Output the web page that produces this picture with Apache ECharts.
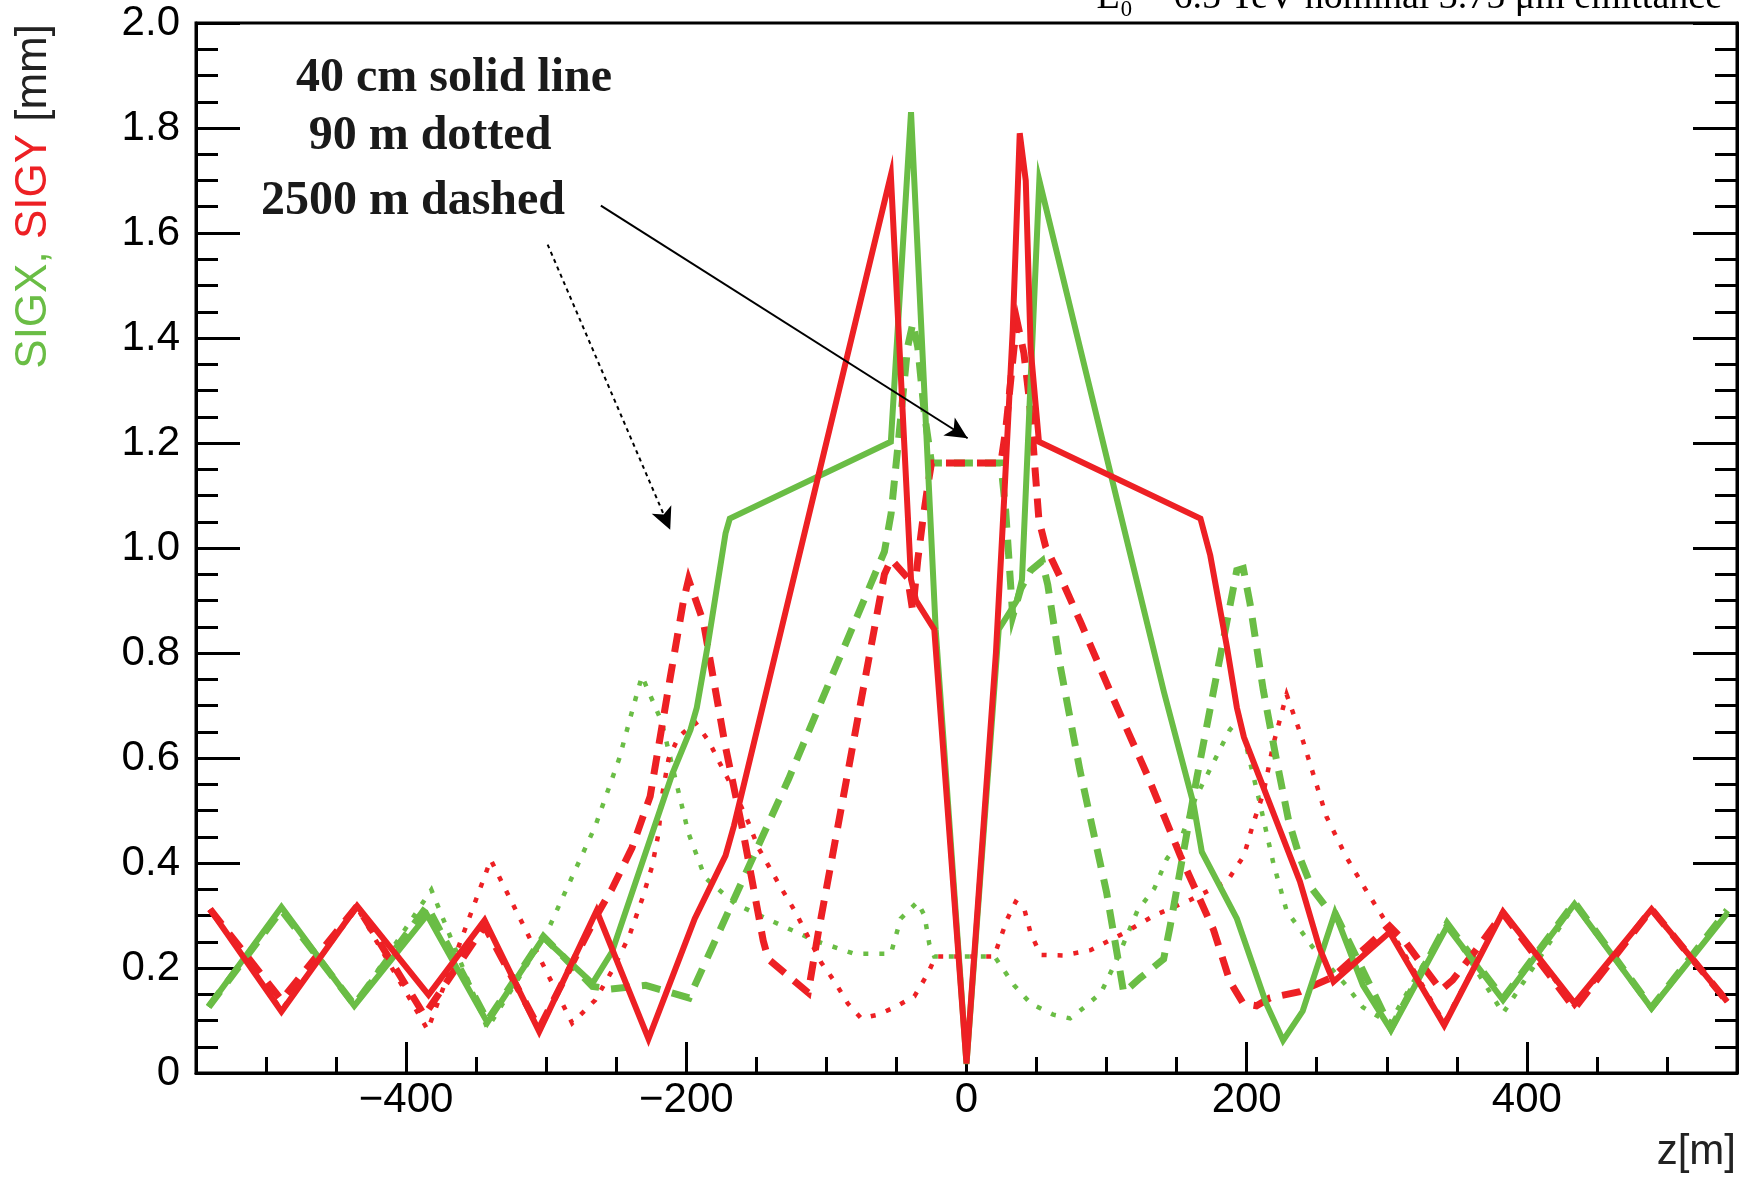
<!DOCTYPE html>
<html>
<head>
<meta charset="utf-8">
<script src="https://cdn.jsdelivr.net/npm/echarts@6/dist/echarts.min.js"></script>
<style>html,body{margin:0;padding:0;background:#fff}#c{width:1753px;height:1177px}</style>
</head>
<body>
<div id="c"></div>
<script>
const GREEN = '#6abd45';
const RED = '#ed2024';

// ---- tick labels ----
const xMajorTicks = [-400, -200, 0, 200, 400];

// ---- SIGX (green) 40 cm, solid ----
const sigxSolidZ = [-541, -489, -437, -385, -342, -302, -267, -253, -210, -197, -192.5, -185, -172, -169, -54, -39.6, -22, 0, 23, 36, 39.6, 52, 107.5, 141, 162, 168, 193, 214, 226, 240, 263, 283, 303, 343, 383, 434, 489, 543];
const sigxSolidV = [0.126, 0.316, 0.128, 0.301, 0.096, 0.258, 0.171, 0.231, 0.57, 0.654, 0.696, 0.81, 1.028, 1.056, 1.2025, 1.83, 0.845, 0.017, 0.845, 0.90, 0.94, 1.70, 1.091, 0.725, 0.513, 0.421, 0.294, 0.132, 0.062, 0.118, 0.305, 0.167, 0.082, 0.279, 0.139, 0.322, 0.123, 0.304];

// ---- SIGY (red) 40 cm, solid ----
const sigySolidZ = [-540, -489, -435, -384, -344, -305, -264, -227, -194, -172, -166, -54, -39.6, -36, -23, 0, 21, 26.8, 33, 38, 42.3, 45.8, 51.7, 167, 174, 186, 193, 198, 238, 252, 262, 302, 341, 383, 434, 489, 543];
const sigySolidV = [0.312, 0.117, 0.318, 0.149, 0.291, 0.079, 0.309, 0.065, 0.294, 0.414, 0.471, 1.71, 0.94, 0.90, 0.845, 0.018, 0.80, 1.09, 1.415, 1.79, 1.70, 1.38, 1.2025, 1.056, 0.986, 0.81, 0.696, 0.64, 0.365, 0.238, 0.174, 0.268, 0.091, 0.307, 0.133, 0.312, 0.136];

// ---- SIGX (green) 90 m, dotted ----
const sigxDottedZ = [-541, -489, -437, -382, -342, -300, -289, -265, -248, -238, -231.7, -217.6, -206.8, -198.5, -186.6, -165, -137, -108, -80, -54, -47, -35, -30, -26.5, -23, 20, 34, 46, 62, 74, 84, 96, 107.5, 122, 134, 143, 152.5, 164, 176, 188, 195, 209.5, 219, 228.5, 247, 271, 283, 302, 343, 383, 434, 489, 543];
const sigxDottedV = [0.126, 0.316, 0.128, 0.349, 0.085, 0.265, 0.33, 0.47, 0.598, 0.696, 0.756, 0.669, 0.549, 0.457, 0.372, 0.322, 0.287, 0.252, 0.227, 0.227, 0.294, 0.326, 0.30, 0.245, 0.222, 0.222, 0.167, 0.132, 0.111, 0.104, 0.125, 0.153, 0.217, 0.309, 0.351, 0.408, 0.442, 0.527, 0.59, 0.654, 0.675, 0.513, 0.40, 0.309, 0.24, 0.167, 0.125, 0.095, 0.285, 0.114, 0.32, 0.125, 0.304];

// ---- SIGY (red) 90 m, dotted ----
const sigyDottedZ = [-540, -489, -435, -384.6, -339.6, -281.5, -265, -253, -241, -231.7, -224.5, -219.8, -217.4, -212.7, -205.6, -193.7, -184.2, -174.7, -165.3, -155.8, -148.6, -132, -122.6, -113, -103.6, -94.1, -84.6, -75.1, -63.3, -51.4, -37.2, -27.7, -22, 19.7, 24.5, 29.2, 35.1, 41, 45.8, 53, 69, 88.5, 112, 134, 160, 186, 198, 205, 212, 219, 228.5, 240, 257, 271, 285, 300, 341, 383, 434, 489, 543];
const sigyDottedV = [0.312, 0.12, 0.315, 0.082, 0.406, 0.095, 0.139, 0.195, 0.259, 0.33, 0.393, 0.457, 0.527, 0.598, 0.64, 0.668, 0.633, 0.583, 0.534, 0.478, 0.429, 0.351, 0.309, 0.259, 0.21, 0.174, 0.132, 0.104, 0.111, 0.125, 0.146, 0.189, 0.222, 0.222, 0.259, 0.294, 0.326, 0.315, 0.266, 0.225, 0.224, 0.234, 0.266, 0.30, 0.33, 0.365, 0.414, 0.478, 0.534, 0.626, 0.721, 0.634, 0.488, 0.412, 0.349, 0.285, 0.095, 0.307, 0.128, 0.31, 0.136];

// ---- SIGX (green) 2500 m, dashed ----
const sigxDashedZ = [-541, -489, -437, -385, -342, -302, -267, -254, -229, -198, -127, -58.6, -53.8, -49, -45.5, -42, -38.3, -34.8, -30.1, -25, 24.5, 28, 33, 38.7, 45.8, 54, 58, 67, 81, 100, 108.6, 112.2, 124, 140.7, 145.4, 164.4, 192.9, 197.6, 202.4, 211.8, 221, 230, 238, 247, 257, 263, 303, 343, 383, 434, 489, 543];
const sigxDashedV = [0.126, 0.31, 0.13, 0.318, 0.1, 0.26, 0.165, 0.16, 0.167, 0.143, 0.56, 0.993, 1.066, 1.193, 1.288, 1.383, 1.428, 1.383, 1.257, 1.162, 1.162, 1.07, 0.87, 0.922, 0.957, 0.975, 0.93, 0.774, 0.576, 0.344, 0.21, 0.153, 0.181, 0.217, 0.28, 0.562, 0.957, 0.961, 0.894, 0.73, 0.60, 0.48, 0.41, 0.35, 0.315, 0.305, 0.085, 0.285, 0.142, 0.325, 0.125, 0.31];

// ---- SIGY (red) 2500 m, dashed ----
const sigyDashedZ = [-540, -489, -435, -387, -344, -305, -264, -253, -238.8, -225.8, -211.5, -202, -198.4, -187.8, -172.4, -159.3, -145.1, -141.5, -113, -105.9, -58.6, -53.8, -42, -38.4, -34.8, -31.2, -27.7, -25, 24.5, 28, 31.6, 34, 36.4, 41, 44.6, 47, 51.7, 56.5, 69.5, 81.4, 105.1, 128.8, 152.6, 176.3, 188.1, 197.6, 207, 216.6, 238, 261.6, 285.4, 302, 314, 328, 338.7, 347, 363.6, 383, 434, 489, 543];
const sigyDashedV = [0.312, 0.139, 0.318, 0.11, 0.28, 0.085, 0.30, 0.351, 0.429, 0.527, 0.753, 0.90, 0.94, 0.859, 0.626, 0.457, 0.252, 0.217, 0.153, 0.266, 0.95, 0.978, 0.943, 0.88, 0.977, 1.053, 1.117, 1.162, 1.162, 1.225, 1.32, 1.383, 1.428, 1.371, 1.288, 1.218, 1.053, 1.0025, 0.93, 0.859, 0.711, 0.569, 0.414, 0.273, 0.174, 0.132, 0.128, 0.143, 0.155, 0.183, 0.24, 0.28, 0.247, 0.196, 0.158, 0.177, 0.234, 0.304, 0.123, 0.312, 0.136];

// ---- annotation arrows (data coords: [z, sigma]) ----
const solidArrowFrom = [-261, 1.652];
const solidArrowTo = [0.8, 1.209];
const dottedArrowFrom = [-299, 1.578];
const dottedArrowTo = [-211.5, 1.035];

function pairs(z, v) { return z.map((x, i) => [x, v[i]]); }

const SOLID_W = 6, DASH_W = 7, DOT_W = 4.5;
function mkSeries(name, z, v, color, kind) {
  let ls;
  if (kind === 'solid') ls = { color, width: SOLID_W, type: 'solid' };
  else if (kind === 'dashed') ls = { color, width: DASH_W, type: [19, 12] };
  else ls = { color, width: DOT_W, type: [5, 11] };
  ls.join = 'miter';
  ls.miterLimit = 8;
  return {
    name, type: 'line', xAxisIndex: 0, yAxisIndex: 0,
    data: pairs(z, v), showSymbol: false, symbol: 'none',
    lineStyle: ls, animation: false, silent: true
  };
}

const series = [
  mkSeries('SIGX 90 m', sigxDottedZ, sigxDottedV, GREEN, 'dotted'),
  mkSeries('SIGY 90 m', sigyDottedZ, sigyDottedV, RED, 'dotted'),
  mkSeries('SIGX 2500 m', sigxDashedZ, sigxDashedV, GREEN, 'dashed'),
  mkSeries('SIGY 2500 m', sigyDashedZ, sigyDashedV, RED, 'dashed'),
  mkSeries('SIGX 40 cm', sigxSolidZ, sigxSolidV, GREEN, 'solid'),
  mkSeries('SIGY 40 cm', sigySolidZ, sigySolidV, RED, 'solid')
];
series[series.length - 1].markLine = {
  silent: true,
  animation: false,
  symbol: ['none', 'arrow'],
  symbolSize: [16, 22],
  label: { show: false },
  emphasis: { disabled: true },
  lineStyle: { color: '#000', width: 2, type: 'solid' },
  data: [
    [{ coord: solidArrowFrom }, { coord: solidArrowTo }],
    [{ coord: dottedArrowFrom, lineStyle: { color: '#000', width: 2, type: [4, 4] } }, { coord: dottedArrowTo }]
  ]
};

const AX = '#000';
const LBL_FONT = 'Liberation Sans';
const fmtX = v => (v < 0 ? '\u2212' + Math.abs(v) : String(v));
const fmtY = v => (v === 0 ? '0' : v.toFixed(1));

const chart = echarts.init(document.getElementById('c'), null, { renderer: 'canvas' });
chart.setOption({
  animation: false,
  backgroundColor: '#fff',
  grid: { left: 196, right: 16, top: 23, bottom: 104, show: true, borderColor: AX, borderWidth: 3, backgroundColor: 'transparent' },
  xAxis: [
    {
      type: 'value', min: -550, max: 550, position: 'bottom',
      axisLine: { show: true, onZero: false, lineStyle: { color: AX, width: 3 } },
      axisTick: { show: true, inside: true, length: 31, customValues: xMajorTicks, lineStyle: { color: AX, width: 3 } },
      axisLabel: { show: true, customValues: xMajorTicks, formatter: fmtX, fontFamily: LBL_FONT, fontSize: 42, color: '#000', margin: 6 },
      splitLine: { show: false }
    },
    {
      type: 'value', min: -550, max: 550, interval: 50, position: 'bottom',
      axisLine: { show: false, onZero: false },
      axisTick: { show: true, inside: true, length: 16, lineStyle: { color: AX, width: 3 } },
      axisLabel: { show: false },
      splitLine: { show: false }
    }
  ],
  yAxis: [
    {
      type: 'value', min: 0, max: 2, interval: 0.2, position: 'left',
      axisLine: { show: true, onZero: false, lineStyle: { color: AX, width: 3 } },
      axisTick: { show: true, inside: true, length: 44, lineStyle: { color: AX, width: 3 } },
      minorTick: { show: true, splitNumber: 4, length: 22, lineStyle: { color: AX, width: 3 } },
      axisLabel: { show: true, formatter: fmtY, fontFamily: LBL_FONT, fontSize: 42, color: '#000', margin: 16 },
      splitLine: { show: false }, minorSplitLine: { show: false }
    },
    {
      type: 'value', min: 0, max: 2, interval: 0.2, position: 'right',
      axisLine: { show: true, onZero: false, lineStyle: { color: AX, width: 3 } },
      axisTick: { show: true, inside: true, length: 44, lineStyle: { color: AX, width: 3 } },
      minorTick: { show: true, splitNumber: 4, length: 22, lineStyle: { color: AX, width: 3 } },
      axisLabel: { show: false },
      splitLine: { show: false }, minorSplitLine: { show: false }
    }
  ],
  series: series,
  graphic: [
    { type: 'text', x: 1722, y: -2, silent: true,
      style: { text: 'E\u2080 = 6.5 TeV nominal 3.75 \u03bcm emittance', font: '38px "Liberation Serif"', fill: '#000', align: 'right', verticalAlign: 'middle' } },
    { type: 'text', x: 454, y: 79, silent: true,
      style: { text: '40 cm solid line', font: 'bold 48px "Liberation Serif"', fill: '#1a1a1a', align: 'center', verticalAlign: 'middle' } },
    { type: 'text', x: 430, y: 137, silent: true,
      style: { text: '90 m dotted', font: 'bold 48px "Liberation Serif"', fill: '#1a1a1a', align: 'center', verticalAlign: 'middle' } },
    { type: 'text', x: 413, y: 202, silent: true,
      style: { text: '2500 m dashed', font: 'bold 48px "Liberation Serif"', fill: '#1a1a1a', align: 'center', verticalAlign: 'middle' } },
    { type: 'text', x: 34, y: 24, rotation: Math.PI / 2, silent: true,
      style: {
        text: '{g|SIGX,} {r|SIGY} {k|[mm]}',
        font: '44px "Liberation Sans"',
        align: 'right', verticalAlign: 'middle',
        rich: {
          g: { fill: GREEN, fontSize: 44, fontFamily: 'Liberation Sans' },
          r: { fill: RED, fontSize: 44, fontFamily: 'Liberation Sans' },
          k: { fill: '#222', fontSize: 44, fontFamily: 'Liberation Sans' }
        }
      } },
    { type: 'text', x: 1736, y: 1152, silent: true,
      style: { text: 'z[m]', font: '42px "Liberation Sans"', fill: '#222', align: 'right', verticalAlign: 'middle' } }
  ]
});
</script>
</body>
</html>
